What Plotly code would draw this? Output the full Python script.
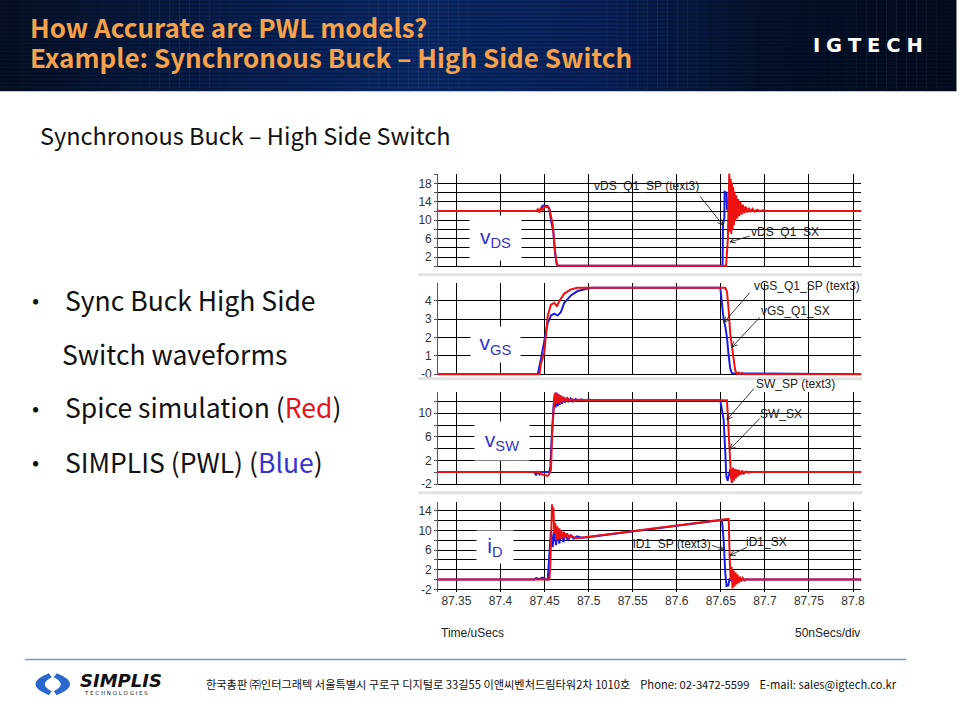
import math
import plotly.graph_objects as go

# ---------------- data (time in µs) ----------------
X_TICKS = [87.35, 87.4, 87.45, 87.5, 87.55, 87.6, 87.65, 87.7, 87.75, 87.8]
X_TICK_LABELS = ["87.35", "87.4", "87.45", "87.5", "87.55", "87.6", "87.65", "87.7", "87.75", "87.8"]
X_RANGE = [87.3293, 87.8095]

# vDS
vds_sp_t = [87.329, 87.4404, 87.4423, 87.4442, 87.4460, 87.4479, 87.4498, 87.4536, 87.4555, 87.4573,
            87.4592, 87.4611, 87.4630, 87.4649, 87.6560, 87.6580, 87.6596, 87.6604, 87.6611, 87.6619,
            87.6626, 87.6634, 87.6641, 87.6649, 87.6657, 87.6664, 87.6675, 87.6687, 87.6698, 87.6709,
            87.6721, 87.6736, 87.6751, 87.6766, 87.6781, 87.6800, 87.6819, 87.6838, 87.6860, 87.6883,
            87.6913, 87.6943, 87.6980, 87.7020, 87.8095]
vds_sp_v = [12.0, 12.0, 12.4, 11.7, 12.6, 12.2, 12.9, 12.9, 12.4, 10.5,
            9.2, 5.0, 1.5, 0.1, 0.1, 6.0, 20.3, 7.5, 19.0, 7.0,
            18.2, 8.0, 17.2, 9.0, 16.2, 9.8, 15.4, 10.4, 14.6, 10.9,
            14.0, 11.2, 13.4, 11.5, 13.0, 11.7, 12.7, 11.8, 12.5, 11.9,
            12.3, 12.0, 12.15, 12.0, 12.0]
vds_sx_t = [87.329, 87.4423, 87.4460, 87.4479, 87.4536, 87.4555, 87.4573, 87.4600, 87.4618, 87.4637,
            87.4649, 87.6520, 87.6524, 87.6540, 87.6543, 87.6565, 87.6570, 87.6590, 87.8095]
vds_sx_v = [12.0, 12.0, 12.5, 13.2, 13.1, 12.5, 10.0, 7.5, 3.0, 0.5,
            0.1, 0.1, 9.0, 10.5, 16.2, 16.0, 12.5, 12.0, 12.0]

# vGS
vgs_sp_t = [87.329, 87.4442, 87.4460, 87.4498, 87.4536, 87.4573, 87.4611, 87.4641, 87.4668, 87.4724,
            87.4799, 87.4875, 87.6551, 87.6570, 87.6589, 87.6607, 87.6626, 87.6645, 87.6664, 87.6683,
            87.6700, 87.6720, 87.6740, 87.6760, 87.8095]
vgs_sp_v = [0.0, 0.0, 0.6, 1.2, 3.2, 3.8, 3.9, 3.7, 4.0, 4.4,
            4.63, 4.72, 4.72, 4.5, 3.5, 2.2, 1.5, 0.8, 0.2, 0.0,
            0.08, 0.0, 0.07, 0.0, 0.0]
vgs_sx_t = [87.329, 87.4423, 87.4460, 87.4498, 87.4536, 87.4573, 87.4611, 87.4649, 87.4686, 87.4724,
            87.4799, 87.4875, 87.4988, 87.5030, 87.6494, 87.6513, 87.6532, 87.6551, 87.6570, 87.6589,
            87.6607, 87.6626, 87.8095]
vgs_sx_v = [0.0, 0.0, 0.85, 1.9, 2.8, 3.2, 3.3, 3.2, 3.4, 3.9,
            4.3, 4.54, 4.68, 4.72, 4.72, 3.9, 3.0, 2.6, 2.0, 1.0,
            0.3, 0.05, 0.0]

# vSW
vsw_sp_t = [87.329, 87.4442, 87.4460, 87.4498, 87.4536, 87.4555, 87.4573, 87.4585, 87.4600, 87.4611,
            87.4622, 87.4633, 87.4645, 87.4656, 87.4668, 87.4679, 87.4690, 87.4705, 87.4720, 87.4740,
            87.4760, 87.4785, 87.4810, 87.4840, 87.4880, 87.4930, 87.6570, 87.6581, 87.6600, 87.6615,
            87.6626, 87.6637, 87.6648, 87.6659, 87.6670, 87.6681, 87.6692, 87.6705, 87.6720, 87.6740,
            87.6760, 87.6785, 87.6810, 87.6840, 87.8095]
vsw_sp_v = [0.05, 0.05, -0.3, -0.5, -0.6, -0.2, 0.5, 6.0, 11.0, 12.5,
            13.5, 11.6, 13.3, 11.7, 13.1, 11.8, 12.9, 11.9, 12.7, 12.0,
            12.55, 12.05, 12.4, 12.1, 12.3, 12.2, 12.2, 8.9, 3.8, -0.6,
            -1.8, 0.8, -1.4, 0.6, -1.0, 0.5, -0.7, 0.4, -0.4, 0.3,
            -0.2, 0.15, -0.05, 0.05, 0.05]
vsw_sx_t = [87.329, 87.4385, 87.4404, 87.4423, 87.4442, 87.4460, 87.4555, 87.4566, 87.4581, 87.4592,
            87.4604, 87.4615, 87.4626, 87.4637, 87.4649, 87.4660, 87.4671, 87.4683, 87.4698, 87.4713,
            87.4730, 87.4750, 87.4770, 87.4795, 87.4820, 87.4850, 87.4880, 87.4920, 87.4960, 87.5000,
            87.5040, 87.5080, 87.5120, 87.6494, 87.6513, 87.6532, 87.6551, 87.6562, 87.6577, 87.6607,
            87.6637, 87.6675, 87.6720, 87.6790, 87.8095]
vsw_sx_v = [0.05, 0.05, -0.5, 0.2, -0.3, 0.05, 0.05, 1.0, 6.0, 9.5,
            11.5, 13.2, 11.0, 13.5, 11.2, 13.2, 11.4, 13.0, 11.6, 12.8,
            11.8, 12.6, 11.9, 12.5, 12.0, 12.4, 12.1, 12.35, 12.1, 12.3,
            12.15, 12.25, 12.2, 12.2, 10.5, 8.9, 3.3, -0.6, -1.4, 0.5,
            -0.6, 0.2, -0.2, 0.05, 0.05]

# iD
id_sp_t = [87.329, 87.4555, 87.4566, 87.4575, 87.4585, 87.4593, 87.4600, 87.4611, 87.4622, 87.4633,
           87.4645, 87.4656, 87.4668, 87.4679, 87.4690, 87.4705, 87.4720, 87.4738, 87.4756, 87.4776,
           87.4800, 87.4830, 87.4870, 87.6570, 87.6590, 87.6600, 87.6611, 87.6622, 87.6633, 87.6645,
           87.6656, 87.6668, 87.6679, 87.6690, 87.6702, 87.6715, 87.6730, 87.6748, 87.6768, 87.6790,
           87.6815, 87.8095]
id_sp_v = [0.0, 0.0, 3.0, 8.0, 15.3, 13.0, 14.7, 9.3, 11.5, 8.0,
           10.8, 8.2, 10.4, 8.3, 10.0, 8.4, 9.7, 8.5, 9.4, 8.6,
           9.0, 8.6, 8.4, 12.3, 12.3, 4.6, -0.1, 2.6, -1.8, 1.9,
           -1.4, 1.4, -1.0, 1.0, -0.7, 0.6, -0.4, 0.3, -0.2, 0.1,
           0.0, 0.0]
id_sx_t = [87.329, 87.4385, 87.4404, 87.4442, 87.4480, 87.4517, 87.4536, 87.4555, 87.4573, 87.4592,
           87.4611, 87.4630, 87.4649, 87.4668, 87.4690, 87.4713, 87.4738, 87.4765, 87.4795, 87.4830,
           87.4870, 87.4920, 87.4988, 87.6513, 87.6532, 87.6551, 87.6565, 87.6585, 87.6600, 87.6625,
           87.6660, 87.6700, 87.8095]
id_sx_v = [0.0, 0.0, 0.3, 0.1, 0.4, 0.0, 0.0, 4.6, 10.0, 6.6,
           10.0, 7.0, 9.8, 7.3, 9.6, 7.6, 9.3, 7.9, 9.0, 8.3,
           8.8, 8.5, 8.6, 12.1, 8.0, 1.2, -1.3, -1.2, 0.2, -0.3,
           0.1, 0.0, 0.0]

# y axis ticks (labelled) and extra gridlines per panel
Y1_TICKS = [2, 6, 10, 14, 18]
Y1_MINOR = [0, 4, 8, 12, 16, 20]
Y2_TICKS = [0, 1, 2, 3, 4]
Y2_LABELS = ["-0", "1", "2", "3", "4"]
Y3_TICKS = [-2, 2, 6, 10]
Y3_MINOR = [0, 4, 8, 12]
Y4_TICKS = [-2, 2, 6, 10, 14]
Y4_MINOR = [0, 4, 8, 12]

RED = "#ee1111"
BLUE = "#1c1ce0"
W, H = 960, 720


def px(x):
    return x / W


def py(y):
    return 1 - y / H


fig = go.Figure()

panels = [
    (vds_sx_t, vds_sx_v, vds_sp_t, vds_sp_v),
    (vgs_sx_t, vgs_sx_v, vgs_sp_t, vgs_sp_v),
    (vsw_sx_t, vsw_sx_v, vsw_sp_t, vsw_sp_v),
    (id_sx_t, id_sx_v, id_sp_t, id_sp_v),
]
for i, (bt, bv, rt, rv) in enumerate(panels):
    suf = "" if i == 0 else str(i + 1)
    fig.add_trace(go.Scatter(x=bt, y=bv, mode="lines", line=dict(color=BLUE, width=2),
                             xaxis="x" + suf, yaxis="y" + suf, showlegend=False, hoverinfo="skip"))
    fig.add_trace(go.Scatter(x=rt, y=rv, mode="lines", line=dict(color=RED, width=2),
                             xaxis="x" + suf, yaxis="y" + suf, showlegend=False, hoverinfo="skip"))

panel_geo = [
    ((175, 269.7), [-0.25, 20.15], Y1_TICKS, [str(v) for v in Y1_TICKS], Y1_MINOR),
    ((285, 378.6), [-0.07, 5.0], Y2_TICKS, Y2_LABELS, []),
    ((395, 489.5), [-2.2, 13.64], Y3_TICKS, [str(v) for v in Y3_TICKS], Y3_MINOR),
    ((506.7, 596.7), [-2.48, 15.67], Y4_TICKS, [str(v) for v in Y4_TICKS], Y4_MINOR),
]
tick_font = dict(family="Liberation Sans, Arial", size=12, color="#333333")
layout_axes = {}
for i, ((top, bot), yr, tv, tt, mv) in enumerate(panel_geo):
    suf = "" if i == 0 else str(i + 1)
    layout_axes["xaxis" + suf] = dict(
        domain=[px(440), px(865)], range=X_RANGE, anchor="y" + suf,
        tickmode="array", tickvals=X_TICKS, ticktext=X_TICK_LABELS,
        showticklabels=(i == 3), showgrid=True, gridcolor="#000000", gridwidth=1,
        zeroline=False, showline=False, ticks="", tickfont=tick_font, fixedrange=True)
    yd = dict(
        domain=[py(bot), py(top)], range=yr, anchor="x" + suf,
        tickmode="array", tickvals=tv, ticktext=tt,
        showgrid=True, gridcolor="#000000", gridwidth=1, zeroline=False,
        showline=True, linecolor="#555555", linewidth=1,
        ticks="outside", ticklen=3, tickcolor="#555555", tickfont=tick_font, fixedrange=True)
    if mv:
        yd["minor"] = dict(tickmode="array", tickvals=mv, showgrid=True, gridcolor="#000000",
                           gridwidth=1, ticks="outside", ticklen=3, tickcolor="#555555")
    layout_axes["yaxis" + suf] = yd

shapes = []
stops = [(0, (7, 18, 38)), (200, (9, 30, 75)), (420, (12, 44, 108)), (600, (11, 36, 94)),
         (760, (6, 20, 46)), (960, (5, 14, 32))]


def grad(x):
    for (x0, c0), (x1, c1) in zip(stops[:-1], stops[1:]):
        if x0 <= x <= x1:
            f = (x - x0) / (x1 - x0)
            return "rgb(%d,%d,%d)" % tuple(int(a + (b - a) * f) for a, b in zip(c0, c1))
    return "rgb(5,14,32)"


for k in range(96):
    x0 = k * 10
    shapes.append(dict(type="rect", xref="paper", yref="paper", x0=px(x0), x1=px(x0 + 10.5),
                       y0=py(92), y1=py(0), fillcolor=grad(x0 + 5), line=dict(width=0), layer="below"))
for k in range(23):
    yy = 2 + k * 4
    shapes.append(dict(type="line", xref="paper", yref="paper", x0=0, x1=1, y0=py(yy), y1=py(yy),
                       line=dict(color="rgba(0,0,0,0.28)", width=1.5), layer="below"))

for yy in (277, 382, 497):
    shapes.append(dict(type="rect", xref="paper", yref="paper", x0=px(420), x1=px(866),
                       y0=py(yy + 1.5), y1=py(yy - 1.5), fillcolor="#e2e2e2", line=dict(width=0)))

shapes.append(dict(type="line", xref="paper", yref="paper", x0=px(25), x1=px(910), y0=py(665), y1=py(665),
                   line=dict(color="#6f9cc2", width=1.5)))


def path(pts_cmds):
    out = []
    for tok in pts_cmds:
        if isinstance(tok, str):
            out.append(tok)
        else:
            out.append("%.5f,%.5f" % (px(tok[0]), py(tok[1])))
    return " ".join(out)


shapes.append(dict(type="path", xref="paper", yref="paper",
                   path=path(["M", (49, 679), "Q", (22, 690), (49, 701), "L", (52, 697),
                              "Q", (38, 690), (52, 683), "Z"]),
                   fillcolor="#2a66cc", line=dict(width=0)))
shapes.append(dict(type="path", xref="paper", yref="paper",
                   path=path(["M", (57, 679), "Q", (84, 690), (57, 701), "L", (54, 697),
                              "Q", (68, 690), (54, 683), "Z"]),
                   fillcolor="#2a66cc", line=dict(width=0)))

ARROWS = [(703, 198, 726, 227), (753, 238, 733, 244), (753, 295, 727, 325),
          (763, 320, 735, 350), (757, 392, 730, 423), (763, 422, 733, 453),
          (715, 550, 727, 554), (750, 552, 733, 560)]
for (tx, ty, hx, hy) in ARROWS:
    shapes.append(dict(type="line", xref="paper", yref="paper", x0=px(tx), y0=py(ty), x1=px(hx), y1=py(hy),
                       line=dict(color="#222222", width=0.9)))
    ang = math.atan2(ty - hy, tx - hx)
    for d in (0.45, -0.45):
        ex = hx + 6 * math.cos(ang + d)
        ey = hy + 6 * math.sin(ang + d)
        shapes.append(dict(type="line", xref="paper", yref="paper", x0=px(hx), y0=py(hy),
                           x1=px(ex), y1=py(ey), line=dict(color="#222222", width=0.9)))

ann = []


def text(x, y, s, size, color="#111111", family="Noto Sans CJK KR", xanchor="left", bold=False, **kw):
    if bold:
        s = "<b>" + s + "</b>"
    d = dict(x=px(x), y=py(y), xref="paper", yref="paper", text=s, showarrow=False,
             xanchor=xanchor, yanchor="middle", font=dict(family=family, size=size, color=color))
    d.update(kw)
    ann.append(d)


ORANGE = "#f5a24a"
text(28, 42, "<span style='font-size:26px'>How Accurate are PWL models?</span><br>"
             "<span style='font-size:26px'>Example: Synchronous Buck – High Side Switch</span>",
     23, ORANGE, bold=True, align="left")
text(872, 46, "\u2009\u200a".join("IGTECH"), 19.5, "#ffffff", family="DejaVu Sans", xanchor="center", bold=True)

text(38, 136, "Synchronous Buck – High Side Switch", 23.5, "#111111")
for yy in (302, 410, 465):
    text(30, yy, "•", 21, "#111111")
text(63, 302, "Sync Buck High Side", 26.5)
text(60, 356, "Switch waveforms", 26.5)
text(63, 410, "Spice simulation (<span style='color:#e8141c'>Red</span>)", 26.5)
text(63, 465, "SIMPLIS (PWL) (<span style='color:#3434d0'>Blue</span>)", 26.5)

LBL = "#3232cc"
for (cx, cy, w, h, s) in [(498, 240, 49, 42, "v<sub>DS</sub>"), (498, 347, 47, 33, "v<sub>GS</sub>"),
                          (504, 445, 52, 36, "v<sub>SW</sub>"), (497, 552, 34, 30, "i<sub>D</sub>")]:
    ann.append(dict(x=px(cx), y=py(cy), xref="paper", yref="paper", text=s, showarrow=False,
                    xanchor="center", yanchor="middle", width=w, height=h, bgcolor="#ffffff",
                    font=dict(family="Liberation Sans, Arial", size=21, color=LBL)))

af = "Liberation Sans, Arial"
text(649, 188, "vDS_Q1_SP (text3)", 12, "#222222", family=af, xanchor="center")
text(788, 234, "vDS_Q1_SX", 12, "#222222", family=af, xanchor="center")
text(810, 288, "vGS_Q1_SP (text3)", 12, "#222222", family=af, xanchor="center")
text(799, 314, "vGS_Q1_SX", 12, "#222222", family=af, xanchor="center")
text(799, 387, "SW_SP (text3)", 12, "#222222", family=af, xanchor="center")
text(784, 417, "SW_SX", 12, "#222222", family=af, xanchor="center")
text(675, 549, "iD1_SP (text3)", 12, "#222222", family=af, xanchor="center")
text(770, 547, "iD1_SX", 12, "#222222", family=af, xanchor="center")

text(441, 638, "Time/uSecs", 12, "#222222", family=af)
text(866, 638, "50nSecs/div", 12, "#222222", family=af, xanchor="right")

text(78, 686, "<i>SIMPLIS</i>", 18, "#111111", family="DejaVu Sans", bold=True)
text(82, 699, "T E C H N O L O G I E S", 5.5, "#111111", family="DejaVu Sans")
text(205, 690, "한국총판 ㈜인터그래텍 서울특별시 구로구 디지털로 33길55 이앤씨벤처드림타워2차 1010호"
               "\u00a0\u00a0\u00a0\u00a0Phone: 02-3472-5599\u00a0\u00a0\u00a0\u00a0E-mail: sales@igtech.co.kr",
     11.2, "#111111")

fig.update_layout(width=W, height=H, margin=dict(l=0, r=0, t=0, b=0),
                  paper_bgcolor="#ffffff", plot_bgcolor="#ffffff",
                  shapes=shapes, annotations=ann, showlegend=False, **layout_axes)

fig.write_html("out.html", config={"displayModeBar": False},
               post_script="document.body.style.margin='0';document.body.style.padding='0';"
                           "document.documentElement.style.overflow='hidden';"
                           "document.body.style.overflow='hidden';")
